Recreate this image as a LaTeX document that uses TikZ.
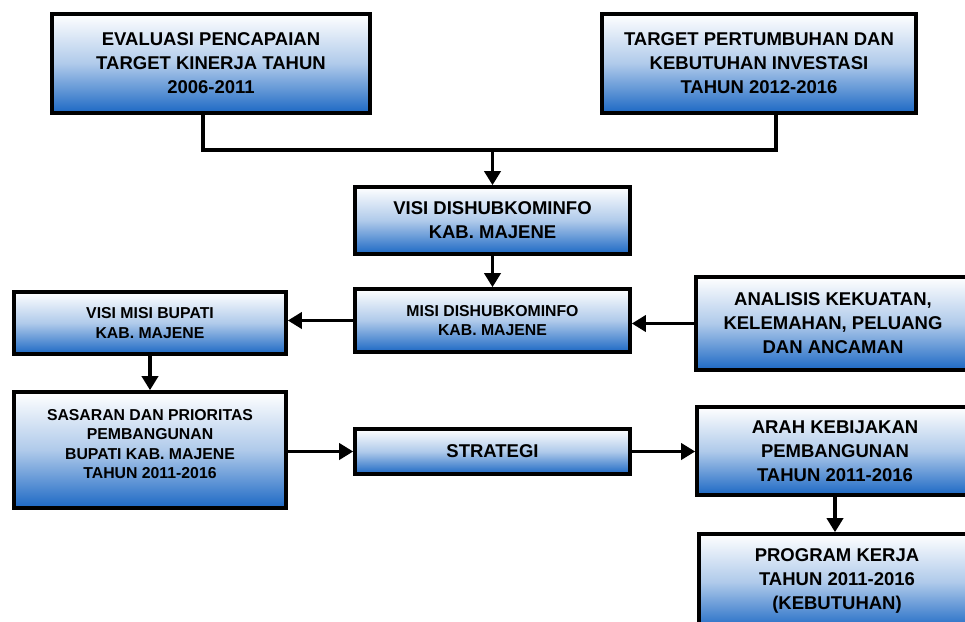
\documentclass[tikz,border=0pt]{standalone}
\usepackage{fontspec}
\setmainfont{Liberation Sans}
\usetikzlibrary{arrows.meta,calc}
\definecolor{boxblue}{RGB}{28,104,196}
\tikzset{
  kotak/.style={rectangle, draw=black, line width=3.6pt, top color=white, bottom color=boxblue, middle color=boxblue!35!white, align=center, inner sep=2pt, font=\fontsize{18.5}{24}\selectfont\bfseries},
  kotakkecil/.style={kotak, font=\fontsize{15.8}{19.5}\selectfont\bfseries},
  garis/.style={line width=3.8pt, line cap=rect},
  panah/.style={line width=3.8pt, -{Triangle[length=14pt,width=16pt]}}
}
\begin{document}
\begin{tikzpicture}[x=1pt, y=-1pt]
    % Canvas
    \fill[white] (0,0) rectangle (965,621);
    \clip (0,0) rectangle (965,621);

    % Top row
    \node[kotak, minimum width=318pt, minimum height=99pt] (evaluasi) at (211,63.5) {EVALUASI PENCAPAIAN\\TARGET KINERJA TAHUN\\2006-2011};
    \node[kotak, minimum width=314pt, minimum height=99pt] (target) at (759,63.5) {TARGET PERTUMBUHAN DAN\\KEBUTUHAN INVESTASI\\TAHUN 2012-2016};

    % Middle column
    \node[kotak, minimum width=275pt, minimum height=67pt] (visi) at (492.5,220.5) {VISI DISHUBKOMINFO\\KAB. MAJENE};
    \node[kotakkecil, minimum width=275pt, minimum height=63pt] (misi) at (492.5,320.5) {MISI DISHUBKOMINFO\\KAB. MAJENE};
    \node[kotak, minimum width=275pt, minimum height=45pt] (strategi) at (492.5,451.5) {STRATEGI};

    % Left column
    \node[kotakkecil, minimum width=272pt, minimum height=62pt] (bupati) at (150,323) {VISI MISI BUPATI\\KAB. MAJENE};
    \node[kotakkecil, minimum width=272pt, minimum height=116pt, text depth=12pt] (sasaran) at (150,450) {SASARAN DAN PRIORITAS\\PEMBANGUNAN\\BUPATI KAB. MAJENE\\TAHUN 2011-2016};

    % Right column
    \node[kotak, minimum width=274pt, minimum height=93pt] (analisis) at (833,323.5) {ANALISIS KEKUATAN,\\KELEMAHAN, PELUANG\\DAN ANCAMAN};
    \node[kotak, minimum width=276pt, minimum height=88pt] (arah) at (835,451) {ARAH KEBIJAKAN\\PEMBANGUNAN\\TAHUN 2011-2016};
    \node[kotak, minimum width=276pt, minimum height=96pt, text depth=6pt] (program) at (837,582) {PROGRAM KERJA\\TAHUN 2011-2016\\(KEBUTUHAN)};

    % Connectors
    \coordinate (temu) at (492.5,150);
    \draw[garis] ([xshift=-8pt]evaluasi.south) |- (temu) -| ([xshift=17pt]target.south);
    \draw[panah] (temu) -- (visi.north);
    \draw[panah] (visi.south) -- (misi.north);
    \draw[panah] (misi.west) -- (bupati.east |- misi.west);
    \draw[panah] (analisis.west) -- (misi.east |- analisis.west);
    \draw[panah] (bupati.south) -- (sasaran.north);
    \draw[panah] (sasaran.east |- strategi.west) -- (strategi.west);
    \draw[panah] (strategi.east) -- (arah.west |- strategi.east);
    \draw[panah] (arah.south) -- (arah.south |- program.north);

\end{tikzpicture}
\end{document}
